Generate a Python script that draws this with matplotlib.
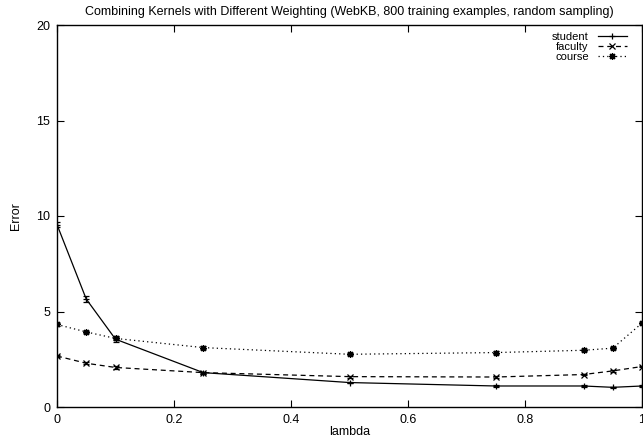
import matplotlib
matplotlib.use("Agg")
import matplotlib.pyplot as plt

plt.rcParams['font.family'] = ['Liberation Sans', 'DejaVu Sans']

lam = [0, 0.05, 0.1, 0.25, 0.5, 0.75, 0.9, 0.95, 1.0]
student = [9.55, 5.65, 3.55, 1.80, 1.28, 1.10, 1.10, 1.03, 1.10]
student_err = [0.15, 0.15, 0.15, 0.05, 0.04, 0.04, 0.04, 0.04, 0.04]
faculty = [2.67, 2.29, 2.07, 1.80, 1.59, 1.57, 1.70, 1.89, 2.12]
faculty_err = [0.06, 0.06, 0.06, 0.05, 0.05, 0.05, 0.05, 0.05, 0.05]
course = [4.32, 3.93, 3.59, 3.11, 2.76, 2.85, 2.97, 3.08, 4.39]
course_err = [0.06, 0.06, 0.10, 0.06, 0.06, 0.06, 0.06, 0.06, 0.06]

xticks = [0, 0.2, 0.4, 0.6, 0.8, 1]
xticklabels = ['0', '0.2', '0.4', '0.6', '0.8', '1']
yticks = [0, 5, 10, 15, 20]

fig = plt.figure(figsize=(6.43, 4.37), dpi=100)
ax = fig.add_axes([57/643, 1-407/437, 585/643, 382/437])

fs = 9
common = dict(color='black', lw=0.9, capsize=2, elinewidth=0.8, capthick=0.8, markersize=5, markeredgewidth=0.9)
c1 = ax.errorbar(lam, student, yerr=student_err, ls='-', marker='+', label='student', **common)
c2 = ax.errorbar(lam, faculty, yerr=faculty_err, ls=(0, (4, 3)), marker='x', label='faculty', **common)
c3 = ax.errorbar(lam, course, yerr=course_err, ls=(0, (1, 2.5)), marker=(8, 2, 0), label='course', **common)

ax.set_xlim(0, 1)
ax.set_ylim(0, 20)
ax.set_xticks(xticks)
ax.set_xticklabels(xticklabels)
ax.set_yticks(yticks)
ax.tick_params(direction='in', top=True, right=True, labelsize=fs, length=5, width=0.8, pad=5)
for s in ax.spines.values():
    s.set_linewidth(1.0)

ax.set_title('Combining Kernels with Different Weighting (WebKB, 800 training examples, random sampling)',
             fontsize=fs, pad=7)
ax.set_xlabel('lambda', fontsize=fs, labelpad=0)
ax.set_ylabel('Error', fontsize=fs, labelpad=10)

leg = ax.legend(handles=[c1.lines[0], c2.lines[0], c3.lines[0]],
                labels=['student', 'faculty', 'course'],
                loc='upper right', frameon=False, fontsize=8, markerfirst=False,
                labelspacing=0.0, handlelength=2.6, handletextpad=0.8,
                borderaxespad=0.3, borderpad=0.3, bbox_to_anchor=(0.985, 1.0))
for t in leg.get_texts():
    t.set_ha('right')

fig.savefig('out.png', dpi=100)
